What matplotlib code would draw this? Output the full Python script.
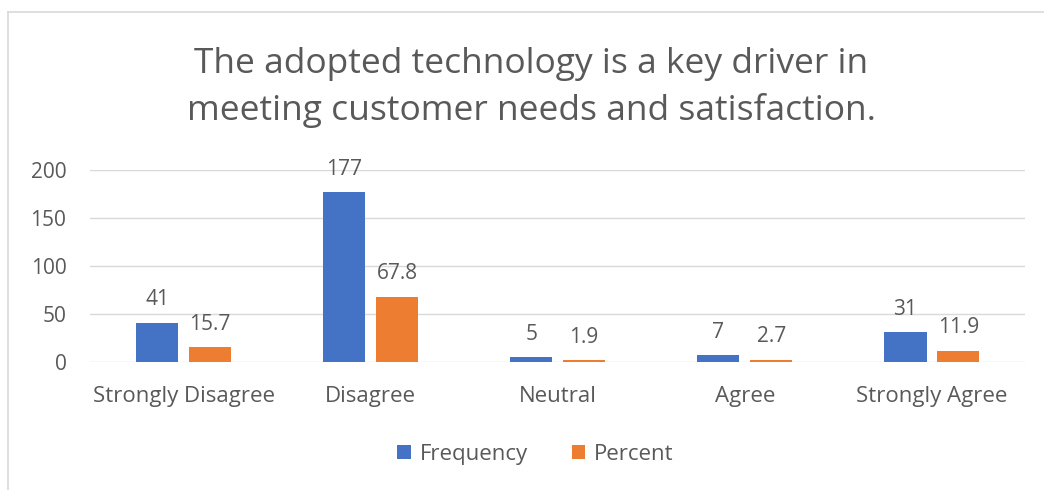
import matplotlib.pyplot as plt
import numpy as np

categories = ["Strongly Disagree", "Disagree", "Neutral", "Agree", "Strongly Agree"]
frequency = [41, 177, 5, 7, 31]
percent = [15.7, 67.8, 1.9, 2.7, 11.9]

plt.rcParams['font.family'] = ['Open Sans', 'DejaVu Sans']
txt = '#595959'

fig = plt.figure(figsize=(10.44, 4.9), dpi=100)
ax = fig.add_axes([0.0862, 0.261, 0.896, 0.392])

x = np.arange(len(categories))
w = 0.225
off = 0.141
b1 = ax.bar(x - off, frequency, w, color='#4472C4', label='Frequency', zorder=3)
b2 = ax.bar(x + off, percent, w, color='#ED7D31', label='Percent', zorder=3)
ax.bar_label(b1, labels=[str(v) for v in frequency], padding=9, fontsize=15, color=txt)
ax.bar_label(b2, labels=[str(v) for v in percent], padding=9, fontsize=15, color=txt)

ax.set_xlim(-0.5, len(categories) - 0.5)
ax.set_ylim(0, 200)
ax.set_yticks([0, 50, 100, 150, 200])
ax.set_xticks(x)
ax.set_xticklabels(categories)
ax.tick_params(axis='both', length=0, labelsize=15, colors=txt)
ax.tick_params(axis='x', pad=17, labelsize=16)
ax.tick_params(axis='y', pad=17)
ax.grid(axis='y', color='#D9D9D9', linewidth=1, zorder=0)
for s in ax.spines.values():
    s.set_visible(False)

fig.text(0.509, 0.822, "The adopted technology is a key driver in\nmeeting customer needs and satisfaction.",
         ha='center', va='center', fontsize=25.5, color=txt, linespacing=1.45)

fig.legend(loc='center', bbox_to_anchor=(0.513, 0.072), ncol=2, frameon=False,
           fontsize=16, labelcolor=txt, handlelength=0.6, handleheight=0.6,
           handletextpad=0.4, columnspacing=2.0)

# chart frame edges visible in the crop (left and top)
fig.add_artist(plt.Line2D([0.008, 0.008], [0.0, 0.976], transform=fig.transFigure,
                          color='#D9D9D9', linewidth=1.2))
fig.add_artist(plt.Line2D([0.008, 1.0], [0.976, 0.976], transform=fig.transFigure,
                          color='#D9D9D9', linewidth=1.2))

plt.savefig('out.png', dpi=100)
